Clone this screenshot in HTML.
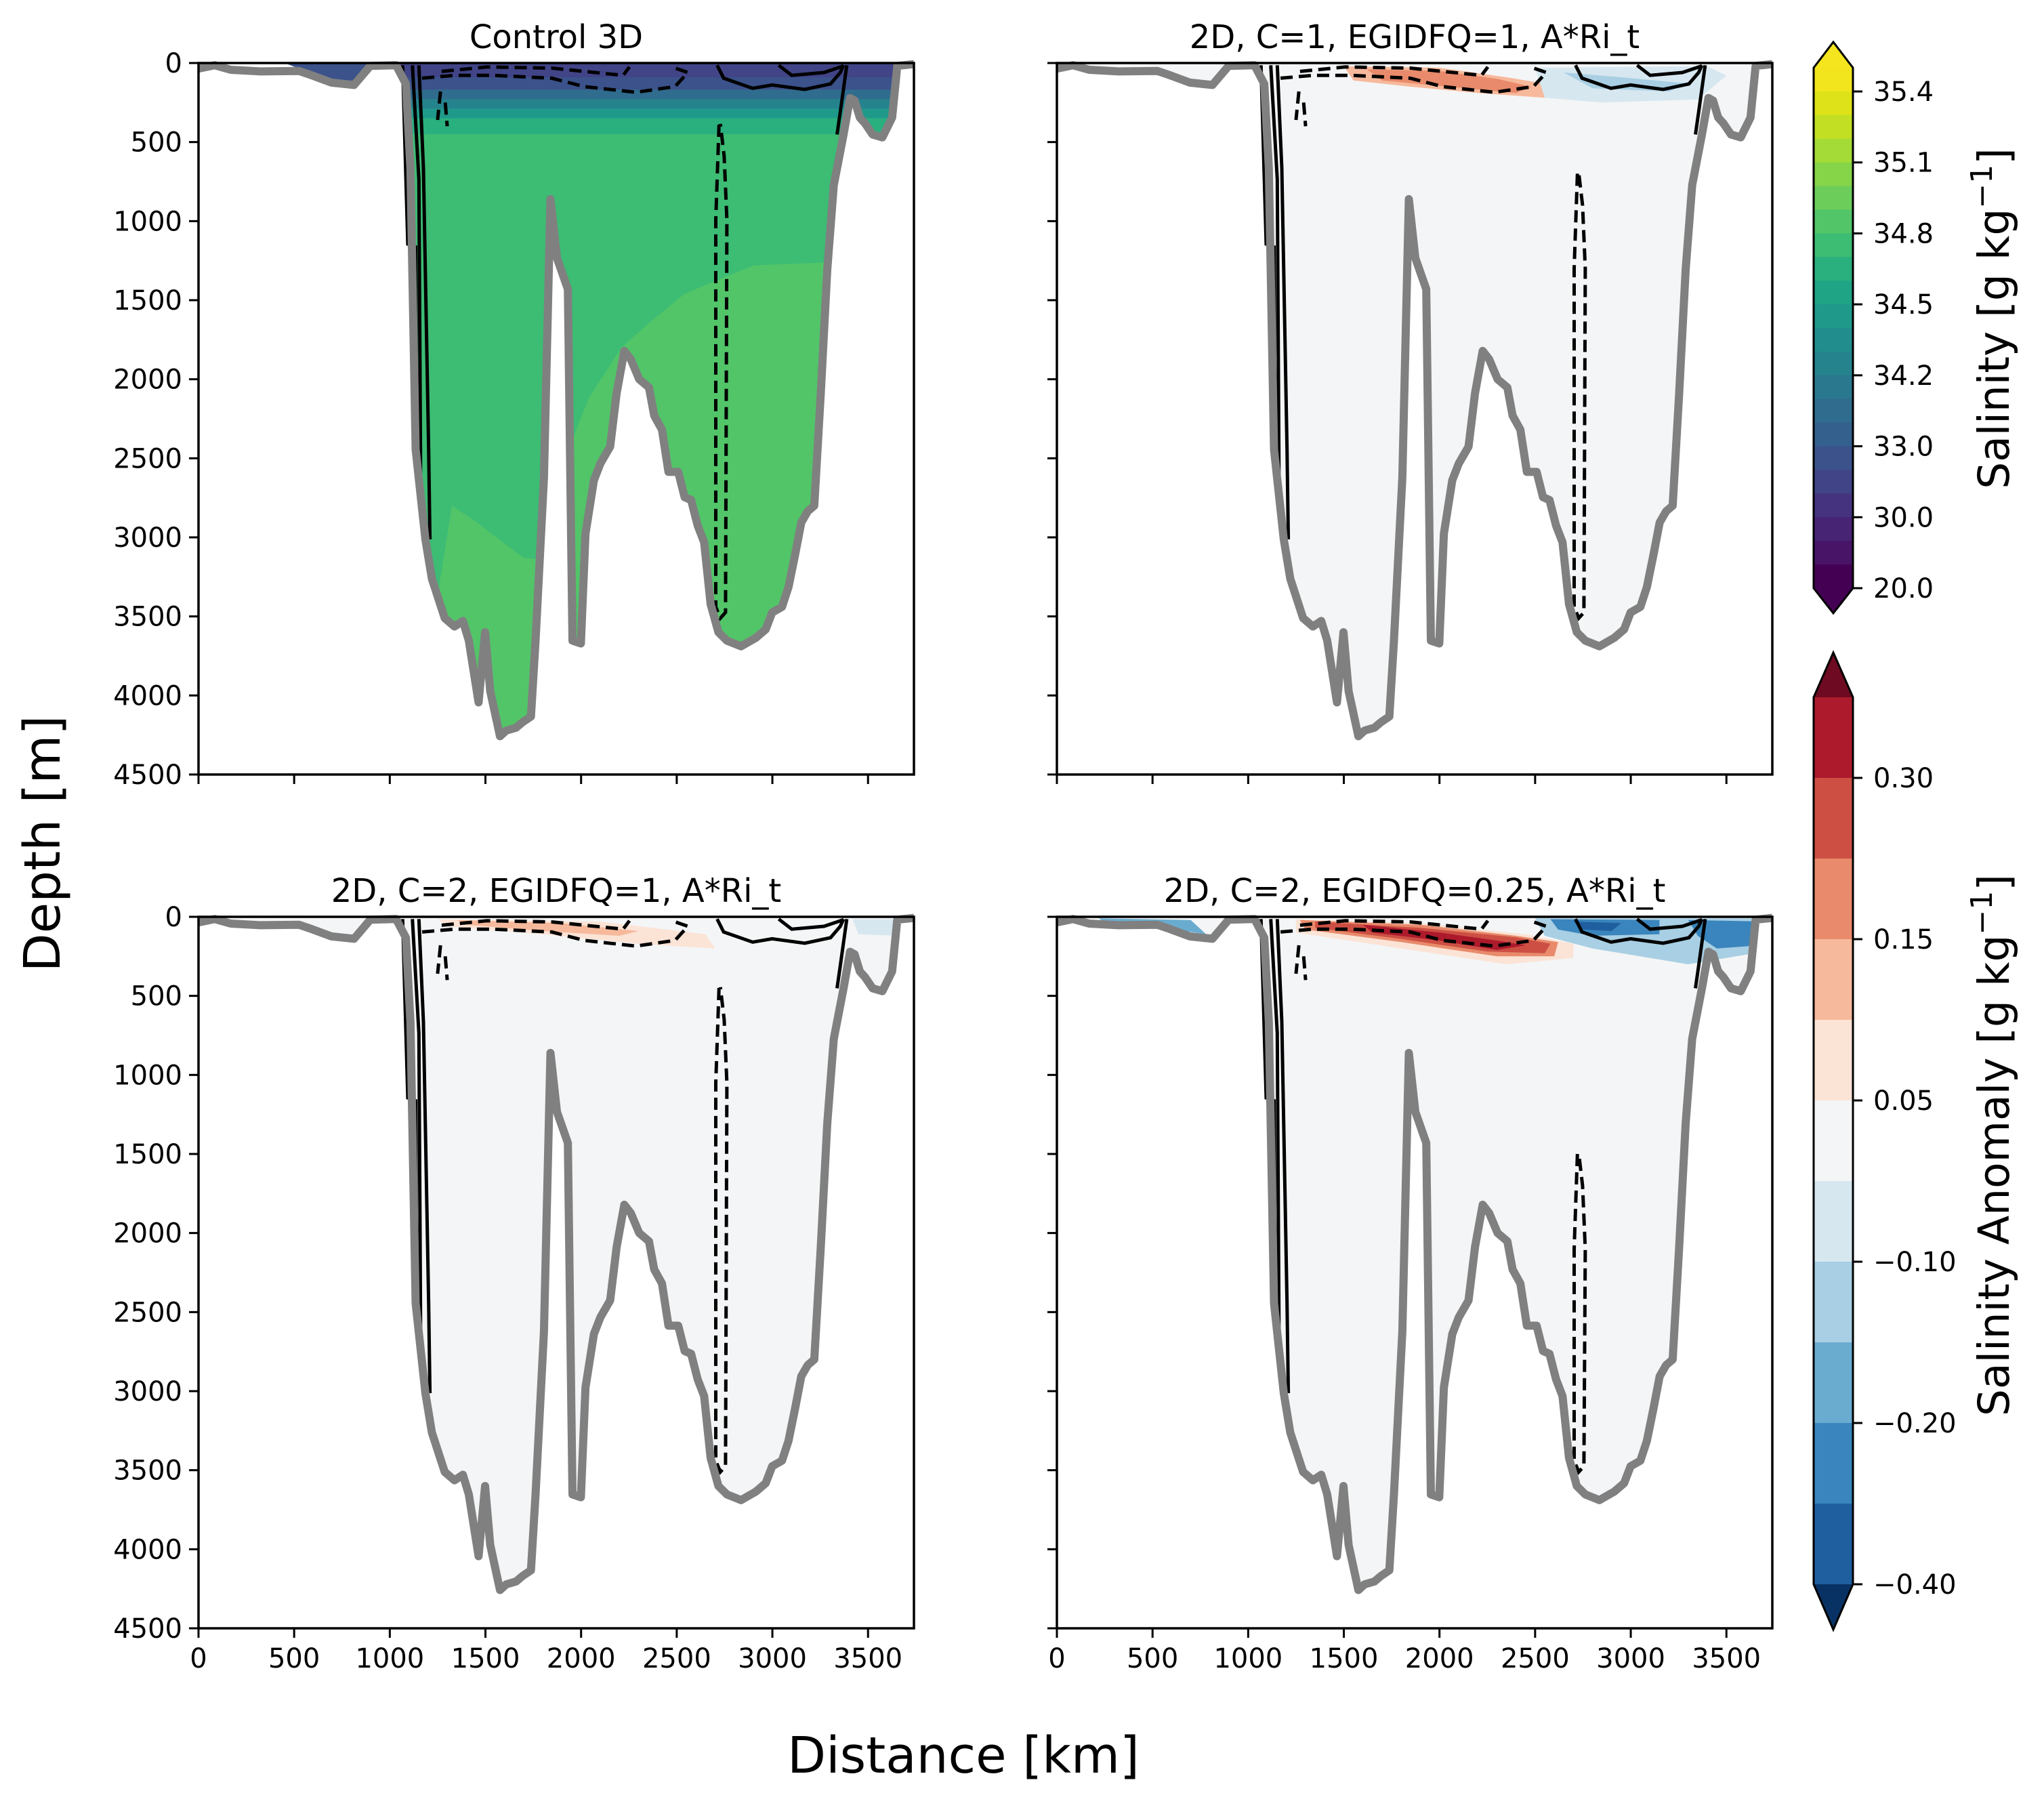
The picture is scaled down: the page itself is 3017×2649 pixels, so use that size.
<!DOCTYPE html>
<html><head><meta charset="utf-8"><style>
html,body{margin:0;padding:0;background:#fff;}
svg{display:block;font-family:"DejaVu Sans","Liberation Sans",sans-serif;}
</style></head><body>
<svg id="fig" xmlns="http://www.w3.org/2000/svg" width="3017" height="2649" viewBox="0 0 3017 2649">
<rect x="0" y="0" width="3017" height="2649" fill="#fff"/>
<text x="1422" y="2616" font-size="74" text-anchor="middle">Distance [km]</text>
<text transform="translate(88,1245) rotate(-90)" font-size="74" text-anchor="middle">Depth [m]</text>
<text transform="translate(2965,470) rotate(-90)" font-size="63" text-anchor="middle">Salinity [g kg<tspan baseline-shift="super" font-size="44">−1</tspan>]</text>
<text transform="translate(2965,1690) rotate(-90)" font-size="63" text-anchor="middle">Salinity Anomaly [g kg<tspan baseline-shift="super" font-size="44">−1</tspan>]</text>
</svg>
<script>
const distKm=[0,85,169,322,525,593,695,813,898,1033,1084,1108,1135,1186,1220,1287,1338,1382,1413,1464,1498,1525,1576,1609,1660,1694,1738,1762,1806,1840,1874,1931,1955,1999,2023,2067,2101,2152,2186,2226,2260,2304,2355,2382,2423,2457,2508,2541,2575,2609,2643,2677,2718,2762,2836,2914,2965,2999,3050,3084,3117,3151,3185,3219,3253,3287,3321,3372,3406,3430,3457,3484,3524,3575,3626,3653,3740];
const depthM=[35,14,43,53,50,78,124,139,18,14,132,665,2444,3013,3262,3511,3564,3529,3653,4044,3600,3973,4258,4222,4204,4169,4133,3653,2622,861,1234,1430,3653,3671,2977,2639,2533,2426,2088,1821,1874,2000,2052,2230,2319,2586,2586,2746,2764,2924,3031,3422,3600,3653,3689,3635,3582,3475,3440,3315,3120,2906,2835,2800,2088,1305,772,452,221,238,345,381,452,470,345,18,7];
const xTicks=[0,500,1000,1500,2000,2500,3000,3500];
const yTicks=[0,500,1000,1500,2000,2500,3000,3500,4000,4500];
const panelTitles=["Control 3D","2D, C=1, EGIDFQ=1, A*Ri_t","2D, C=2, EGIDFQ=1, A*Ri_t","2D, C=2, EGIDFQ=0.25, A*Ri_t"];
const salTickLabels=["35.4","35.1","34.8","34.5","34.2","33.0","30.0","20.0"];
const anomTickLabels=["0.30","0.15","0.05","−0.10","−0.20","−0.40"];
const viridisBands=["#f2e51d","#dde318","#c2df23","#a5db36","#86d549","#6ccd5a","#52c569","#3dbc74","#2ab07f","#20a486","#1f9a8a","#218e8d","#25838e","#2a788e","#2f6c8e","#34608d","#3b528b","#414487","#46337f","#482475","#481467","#440154"];
const anomBands=["#ac1a2c","#cd4f44","#e88a6b","#f7b99c","#fbe3d6","#f4f5f6","#d6e7f0","#a8cfe3","#6aacd0","#3a85bd","#1f5f9f"];
const patchesP2=[[3,[1500,20,2000,30,2350,90,2650,150,2550,220,2200,190,1850,150,1550,110]],[2,[1620,40,2000,50,2300,100,2480,150,2400,190,2050,150,1700,110]],[6,[2500,30,3400,20,3500,80,3350,230,2850,250,2550,220]],[7,[2650,60,2950,90,3300,130,3200,180,2800,160]]];
const patchesP3=[[4,[1250,15,2100,30,2650,110,2700,200,2300,170,1800,110,1300,60]],[3,[1350,20,1900,40,2300,90,2200,120,1800,90,1400,50]],[6,[3420,15,3700,15,3650,120,3450,110]]];
const patchesP4=[[4,[1250,15,1900,40,2450,110,2700,170,2700,260,2350,300,1800,200,1250,100]],[2,[1270,20,1900,50,2400,120,2620,160,2600,250,2300,250,1800,160,1300,80]],[1,[1350,30,1900,70,2400,130,2580,170,2550,230,2250,220,1800,140,1350,70]],[0,[1600,50,2000,100,2300,150,2450,180,2300,210,2000,150,1650,100]],[7,[2500,10,3700,10,3700,220,3300,300,2800,200,2550,120]],[9,[2580,15,3150,20,3150,110,2800,120,2620,80]],[9,[3300,20,3700,30,3680,180,3450,200,3350,120]],[10,[2700,30,2950,40,2900,90,2750,80]],[8,[220,10,700,20,780,110,500,60,250,40]]];
const controlDeep=[1325,2800,1450,2900,1600,3040,1700,3130,1800,3140,1955,2380,2040,2120,2210,1800,2350,1650,2540,1460,2900,1280,3300,1260,3740,1260,3740,4500,1100,4500];
const contourSolid=[[1067,14,1094,1145,1135,1163,1142,2497,1186,3013],[1152,14,1176,665,1203,2444,1210,3013],[1118,14,1152,736,1162,2800],[2711,14,2745,96,2897,160,2999,139,3169,167,3304,132,3355,60,3372,14],[3033,14,3101,78,3270,60,3372,18],[3389,14,3355,309,3338,452]];
const contourDashed=[[1169,96,1338,78,1542,78,1847,96,2016,149,2287,185,2491,149,2558,60,2474,25],[1271,53,1508,25,1847,32,2220,78,2253,25],[1265,180,1250,360],[1290,250,1300,400]];
const loopTops=[390,700,450,1500];

const NS="http://www.w3.org/2000/svg";
const svg=document.getElementById('fig');
const W=1056,H=1050,XMAX=3740,YMAX=4500;
const panels=[[293,93],[1560,93],[293,1353],[1560,1353]];
function mk(t,a,p){const e=document.createElementNS(NS,t);for(const k in a)e.setAttribute(k,a[k]);(p||svg).appendChild(e);return e;}
function pts(arr,sx,sy){let s=[];for(let i=0;i<arr.length;i+=2)s.push(sx(arr[i]).toFixed(1)+','+sy(arr[i+1]).toFixed(1));return s.join(' ');}

panels.forEach((p,pi)=>{
  const x0=p[0],y0=p[1];
  const sx=v=>x0+v/XMAX*W, sy=v=>y0+v/YMAX*H;
  const g=mk('g',{});
  
  
  const cp=mk('clipPath',{id:'clip'+pi},g);
  let wp=[];for(let i=0;i<distKm.length;i++){wp.push(distKm[i],depthM[i]);}
  wp.push(XMAX,0,0,0);
  mk('polygon',{points:pts(wp,sx,sy)},cp);
  const fg=mk('g',{'clip-path':'url(#clip'+pi+')'},g);
  if(pi===0){
    const r=mk('rect',{x:x0,y:y0,width:W,height:H,fill:'#3dbc74'},fg);
    
    
    mk('polygon',{points:pts(controlDeep,sx,sy),fill:'#52c569'},fg);
    const layers=[[0,90,'#414487'],[90,170,'#3b528b'],[170,230,'#2f6c8e'],[230,290,'#25838e'],[290,350,'#1f9a8a'],[350,450,'#2ab07f']];
    layers.forEach(l=>{mk('rect',{x:sx(1000),y:sy(l[0]),width:sx(3740)-sx(1000),height:sy(l[1])-sy(l[0]),fill:l[2]},fg);});
    mk('rect',{x:sx(0),y:sy(0),width:sx(1000)-sx(0),height:sy(200)-sy(0),fill:'#ffffff'},fg);
    mk('polygon',{points:pts([450,0,900,0,850,120,700,130,600,70],sx,sy),fill:'#3b528b'},fg);
  } else {
    const r=mk('rect',{x:x0,y:y0,width:W,height:H,fill:'#f4f5f6'},fg);
    
    
    const pl=pi===1?patchesP2:(pi===2?patchesP3:patchesP4);
    pl.forEach(q=>{const e=mk('polygon',{points:pts(q[1],sx,sy),fill:anomBands[q[0]]},fg);
      
      });
  }
  contourSolid.forEach(c=>{mk('polyline',{points:pts(c,sx,sy),fill:'none',stroke:'#000','stroke-width':5},g);});
  contourDashed.forEach(c=>{mk('polyline',{points:pts(c,sx,sy),fill:'none',stroke:'#000','stroke-width':5,'stroke-dasharray':'18,9'},g);});
  const t=loopTops[pi];
  const loop=[2721,t,2704,t+600,2704,3440,2728,3511,2755,3475,2762,t+600,2748,t+200,2728,t-5];
  const lp=mk('polyline',{points:pts(loop,sx,sy),fill:'none',stroke:'#000','stroke-width':5,'stroke-dasharray':'18,9'},g);
  
  
  let bp=[];for(let i=0;i<distKm.length;i++)bp.push(distKm[i],depthM[i]);
  const b=mk('polyline',{points:pts(bp,sx,sy),fill:'none',stroke:'#808080','stroke-width':12,'stroke-linejoin':'round'},g);
  
  
  const fr=mk('rect',{x:x0,y:y0,width:W,height:H,fill:'none',stroke:'#000','stroke-width':3.5},g);
  
  
  xTicks.forEach(v=>{mk('line',{x1:sx(v),x2:sx(v),y1:y0+H,y2:y0+H+14,stroke:'#000','stroke-width':3},g);
    if(pi>=2){const tx=mk('text',{x:sx(v),y:y0+H+58,'font-size':40,'text-anchor':'middle'},g);tx.textContent=v;
      
      }});
  yTicks.forEach(v=>{mk('line',{x1:x0-14,x2:x0,y1:sy(v),y2:sy(v),stroke:'#000','stroke-width':3},g);
    if(pi%2===0){const tx=mk('text',{x:x0-24,y:sy(v)+14,'font-size':40,'text-anchor':'end'},g);tx.textContent=v;
      
      }});
  const tt=mk('text',{x:x0+W/2,y:y0-22,'font-size':48,'text-anchor':'middle'},g);
  tt.textContent=panelTitles[pi];
  
  
});

(function(){
  const cx0=2677,cx1=2735,top=100,bot=868,bh=(bot-top)/viridisBands.length;
  const g=mk('g',{});
  
  
  viridisBands.forEach((c,i)=>{mk('rect',{x:cx0,y:top+i*bh,width:cx1-cx0,height:bh+0.6,fill:c},g);});
  mk('polygon',{points:`${cx0},${top} ${(cx0+cx1)/2},62 ${cx1},${top}`,fill:'#f5e51f'},g);
  mk('polygon',{points:`${cx0},${bot} ${(cx0+cx1)/2},905 ${cx1},${bot}`,fill:'#440154'},g);
  mk('polygon',{points:`${cx0},${top} ${(cx0+cx1)/2},62 ${cx1},${top} ${cx1},${bot} ${(cx0+cx1)/2},905 ${cx0},${bot}`,fill:'none',stroke:'#000','stroke-width':3},g);
  salTickLabels.forEach((s,i)=>{const y=135+i*(bot-135)/(salTickLabels.length-1);
    mk('line',{x1:cx1,x2:cx1+14,y1:y,y2:y,stroke:'#000','stroke-width':3},g);
    const tx=mk('text',{x:cx1+30,y:y+14,'font-size':40},g);tx.textContent=s;
    
    });
})();
(function(){
  const cx0=2677,cx1=2735,top=1029,bot=2338,bh=(bot-top)/anomBands.length;
  const g=mk('g',{});
  
  
  anomBands.forEach((c,i)=>{mk('rect',{x:cx0,y:top+i*bh,width:cx1-cx0,height:bh+0.6,fill:c},g);});
  mk('polygon',{points:`${cx0},${top} ${(cx0+cx1)/2},963 ${cx1},${top}`,fill:'#6e0a21'},g);
  mk('polygon',{points:`${cx0},${bot} ${(cx0+cx1)/2},2405 ${cx1},${bot}`,fill:'#083264'},g);
  mk('polygon',{points:`${cx0},${top} ${(cx0+cx1)/2},963 ${cx1},${top} ${cx1},${bot} ${(cx0+cx1)/2},2405 ${cx0},${bot}`,fill:'none',stroke:'#000','stroke-width':3},g);
  anomTickLabels.forEach((s,i)=>{const y=top+bh*(1+2*i);
    mk('line',{x1:cx1,x2:cx1+14,y1:y,y2:y,stroke:'#000','stroke-width':3},g);
    const tx=mk('text',{x:cx1+30,y:y+14,'font-size':40},g);tx.textContent=s;
    
    });
})();
</script>
</body></html>
